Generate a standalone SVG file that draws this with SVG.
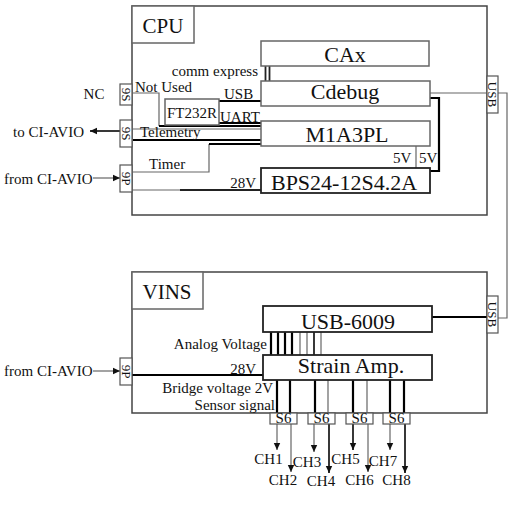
<svg xmlns="http://www.w3.org/2000/svg" width="510" height="508" viewBox="0 0 510 508">
<defs>
<marker id="ah" markerUnits="userSpaceOnUse" markerWidth="8" markerHeight="8" refX="7" refY="4" orient="auto">
<path d="M0,0.8 L7,4 L0,7.2 Z" fill="#111"/>
</marker>
<style>
text{font-family:"Liberation Serif","Times New Roman",serif;fill:#111}
.big{font-size:22px;text-anchor:middle}
.title{font-size:21px;text-anchor:middle}
.sm{font-size:15px}
.end{text-anchor:end}
.mid{text-anchor:middle}
.frame{fill:#fff;stroke:#444;stroke-width:1.5}
.box{fill:#fff;stroke:#666;stroke-width:1.5}
.dbox{fill:#fff;stroke:#222;stroke-width:1.8}
.conn{fill:#fff;stroke:#555;stroke-width:1.2}
.ct{font-size:13px;text-anchor:middle}
.w{fill:none;stroke:#222;stroke-width:1.8}
.t{fill:none;stroke:#666;stroke-width:1.2}
.k{fill:none;stroke:#000;stroke-width:2.2}
</style>
</defs>

<g id="cpu">
<rect class="frame" x="132" y="6" width="355" height="209"/>
<rect class="box" x="132" y="6" width="62" height="37"/>
<text class="title" x="163" y="33">CPU</text>
</g>

<g id="vins">
<rect class="frame" x="132" y="272" width="355" height="141"/>
<rect class="box" x="132" y="272" width="71" height="37"/>
<text class="title" x="167" y="299">VINS</text>
</g>

<g id="connectors">
<!-- CPU internal -->
<path class="w" d="M265.5,66 V81 M269.5,66 V81"/>
<path class="t" d="M133,93 H159 V126"/>
<path class="k" d="M159,126 H262"/>
<path class="k" d="M219,101 H262"/>
<path class="k" d="M219,123 H262"/>
<path class="t" d="M133,129 H262"/>
<path class="k" d="M133,140 H262"/>
<path class="t" d="M133,172 H209 V144"/>
<path class="k" d="M209,144 H262"/>
<path class="t" d="M133,190 H180"/>
<path class="w" d="M180,190 H262"/>
<path class="t" d="M430,93 H507 V318 H498"/>
<path class="k" d="M430,98 H439 V171 H430"/>
<path class="t" d="M416,146 V168"/>
<!-- external arrows CPU -->
<path class="w" d="M120,131 H90" marker-end="url(#ah)"/>
<path class="t" d="M93,178 H120" marker-end="url(#ah)"/>
<!-- VINS -->
<path class="t" d="M93,371 H120" marker-end="url(#ah)"/>
<path class="k" d="M132,375 H263"/>
<path class="k" d="M432,317 H487"/>
<path class="k" d="M271,332 V355 M278,332 V355 M285,332 V355 M292,332 V355"/>
<path class="t" d="M300,332 V355 M307,332 V355"/>
<path class="w" d="M314,332 V355"/>
<path class="t" d="M321,332 V355"/>
<path class="k" d="M277,380 V413 M290,380 V413 M315,380 V413 M390,380 V413 M404,380 V413 M353,380 V413"/>
<path class="t" d="M328,380 V413 M367,380 V413"/>
<path class="t" d="M277,424 V450" marker-end="url(#ah)"/>
<path class="t" d="M291,424 V472" marker-end="url(#ah)"/>
<path class="t" d="M314,424 V452" marker-end="url(#ah)"/>
<path class="w" d="M329,424 V473" marker-end="url(#ah)"/>
<path class="w" d="M353,424 V450" marker-end="url(#ah)"/>
<path class="t" d="M368,424 V472" marker-end="url(#ah)"/>
<path class="t" d="M390,424 V450" marker-end="url(#ah)"/>
<path class="w" d="M405,424 V473" marker-end="url(#ah)"/>
</g>

<g id="cax"><rect class="box" x="261" y="41" width="168" height="25"/><text class="big" x="345" y="62">CAx</text></g>
<g id="cdebug"><rect class="box" x="261" y="81" width="169" height="25"/><text class="big" x="345" y="99">Cdebug</text></g>
<g id="m1a3pl"><rect class="box" x="261" y="121" width="169" height="25"/><text class="big" x="347" y="142">M1A3PL</text></g>
<g id="bps"><rect class="dbox" x="261" y="168" width="169" height="25"/><text class="big" x="344" y="190">BPS24-12S4.2A</text></g>
<g id="ft232r"><rect class="box" x="165" y="99" width="54" height="26"/><text class="sm mid" x="192" y="118">FT232R</text></g>
<g id="usb6009"><rect class="dbox" x="263" y="306" width="169" height="26"/><text class="big" x="348" y="329">USB-6009</text></g>
<g id="strainamp"><rect class="dbox" x="263" y="355" width="169" height="25"/><text class="big" x="351" y="373">Strain Amp.</text></g>

<g id="conn-cpu">
<rect class="conn" x="120" y="84" width="12" height="21"/><text class="ct" transform="translate(126,94.5) rotate(90)" y="4.5">9S</text>
<rect class="conn" x="120" y="120" width="12" height="27"/><text class="ct" transform="translate(126,133.5) rotate(90)" y="4.5">9S</text>
<rect class="conn" x="120" y="165" width="12" height="27"/><text class="ct" transform="translate(126,178.5) rotate(90)" y="4.5">9P</text>
<rect class="conn" x="487" y="76" width="11" height="37"/><text class="ct" transform="translate(492.5,94.5) rotate(90)" y="4.5">USB</text>
</g>
<g id="conn-vins">
<rect class="conn" x="120" y="358" width="12" height="27"/><text class="ct" transform="translate(126,371.5) rotate(90)" y="4.5">9P</text>
<rect class="conn" x="487" y="296" width="11" height="37"/><text class="ct" transform="translate(492.5,314.5) rotate(90)" y="4.5">USB</text>
<rect class="conn" x="270" y="413" width="27" height="11"/><text class="sm mid" x="283.5" y="423">S6</text>
<rect class="conn" x="308" y="413" width="27" height="11"/><text class="sm mid" x="321.5" y="423">S6</text>
<rect class="conn" x="346" y="413" width="27" height="11"/><text class="sm mid" x="359.5" y="423">S6</text>
<rect class="conn" x="383" y="413" width="27" height="11"/><text class="sm mid" x="396.5" y="423">S6</text>
</g>

<g id="labels">
<text class="sm end" x="258" y="76">comm express</text>
<text class="sm" x="135" y="92">Not Used</text>
<text class="sm" x="224" y="99">USB</text>
<text class="sm" x="220" y="122">UART</text>
<text class="sm" x="140" y="137">Telemetry</text>
<text class="sm" x="149" y="169">Timer</text>
<text class="sm end" x="256" y="188">28V</text>
<text class="sm" x="393" y="163">5V</text>
<text class="sm" x="419" y="163">5V</text>
<text class="sm mid" x="94" y="99">NC</text>
<text class="sm" x="13" y="137">to CI-AVIO</text>
<text class="sm" x="4" y="184">from CI-AVIO</text>
<text class="sm" x="4" y="376">from CI-AVIO</text>
<text class="sm end" x="267" y="349">Analog Voltage</text>
<text class="sm end" x="256" y="374">28V</text>
<text class="sm end" x="273" y="393">Bridge voltage 2V</text>
<text class="sm end" x="275" y="410">Sensor signal</text>
<text class="sm mid" x="268.5" y="464">CH1</text>
<text class="sm mid" x="283" y="485">CH2</text>
<text class="sm mid" x="307" y="467">CH3</text>
<text class="sm mid" x="321" y="486">CH4</text>
<text class="sm mid" x="345.5" y="464">CH5</text>
<text class="sm mid" x="359.5" y="485">CH6</text>
<text class="sm mid" x="383" y="466">CH7</text>
<text class="sm mid" x="396.5" y="485">CH8</text>
</g>
</svg>
